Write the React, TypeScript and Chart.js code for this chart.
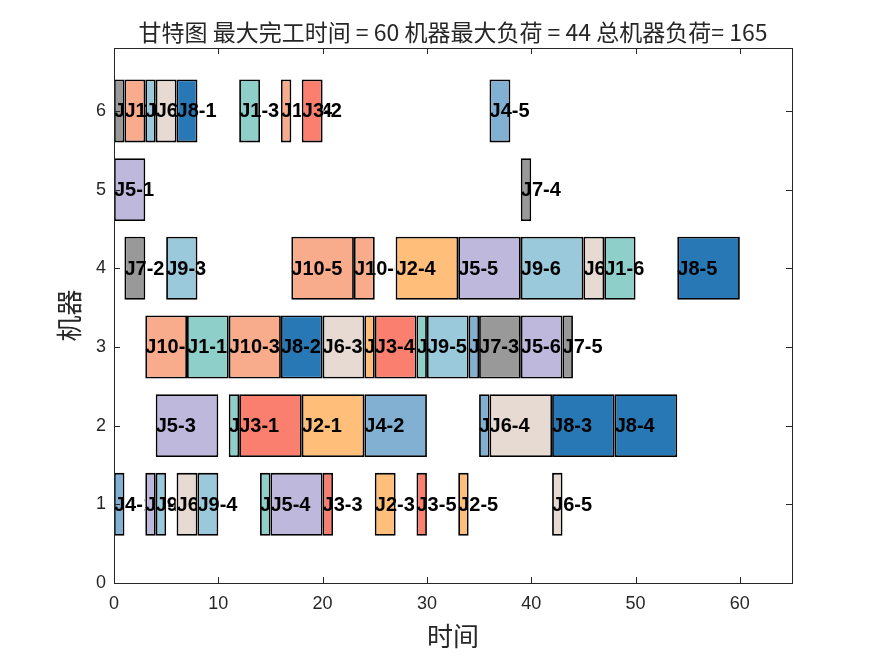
import React, { useEffect, useRef } from "react";
import { Chart, registerables } from "chart.js";

Chart.register(...registerables);

const titleText = "甘特图 最大完工时间 = 60 机器最大负荷 = 44 总机器负荷= 165";
const xTitle = "时间";
const yTitle = "机器";

const jobColors = [
  "#8ECFC9", "#FFBE7A", "#FA7F6F", "#82B0D2", "#BEB8DC",
  "#E7DAD2", "#999999", "#2878B5", "#9AC9DB", "#F8AC8C",
];

// job number, operation number, machine, start, end
const taskJob = [
  1, 1, 1, 1, 1, 1,
  2, 2, 2, 2, 2,
  3, 3, 3, 3, 3,
  4, 4, 4, 4, 4,
  5, 5, 5, 5, 5, 5,
  6, 6, 6, 6, 6, 6,
  7, 7, 7, 7, 7,
  8, 8, 8, 8, 8,
  9, 9, 9, 9, 9, 9,
  10, 10, 10, 10, 10, 10,
];
const taskOp = [
  1, 2, 3, 4, 5, 6,
  1, 2, 3, 4, 5,
  1, 2, 3, 4, 5,
  1, 2, 3, 4, 5,
  1, 2, 3, 4, 5, 6,
  1, 2, 3, 4, 5, 6,
  1, 2, 3, 4, 5,
  1, 2, 3, 4, 5,
  1, 2, 3, 4, 5, 6,
  1, 2, 3, 4, 5, 6,
];
const taskMachine = [
  3, 2, 6, 1, 3, 4,
  2, 3, 1, 4, 1,
  2, 6, 1, 3, 1,
  1, 2, 3, 2, 6,
  5, 1, 2, 1, 4, 3,
  6, 1, 3, 2, 1, 4,
  6, 4, 3, 5, 3,
  6, 3, 2, 2, 4,
  6, 1, 4, 1, 3, 4,
  6, 3, 3, 6, 4, 4,
];
const taskStart = [
  7, 11, 12, 14, 29, 47,
  18, 24, 25, 27, 33,
  12, 18, 20, 25, 29,
  0, 24, 34, 35, 36,
  0, 3, 4, 15, 33, 39,
  4, 6, 20, 36, 42, 45,
  0, 1, 35, 39, 43,
  6, 16, 42, 48, 54,
  3, 4, 5, 8, 30, 39,
  1, 3, 11, 16, 17, 23,
];
const taskEnd = [
  11, 12, 14, 15, 30, 50,
  24, 25, 27, 33, 34,
  18, 20, 21, 29, 30,
  1, 30, 35, 36, 38,
  3, 4, 10, 20, 39, 43,
  6, 8, 24, 42, 43, 47,
  1, 3, 39, 40, 44,
  8, 20, 48, 54, 60,
  4, 5, 8, 10, 34, 45,
  3, 7, 16, 17, 23, 25,
];

const xTicks = [0, 10, 20, 30, 40, 50, 60];
const yTicks = [0, 1, 2, 3, 4, 5, 6];
const xMin = 0;
const xMax = 65;
const yMin = 0;
const yMax = 6.8;

const AXIS_COLOR = "#262626";

const decorPlugin = {
  id: "ganttDecor",
  afterDatasetsDraw(chart: any) {
    const ctx = chart.ctx;
    const xs = chart.scales.x;
    const ys = chart.scales.y;
    const meta = chart.getDatasetMeta(0);
    ctx.save();
    ctx.fillStyle = "#000";
    ctx.font = "bold 20px 'Liberation Sans', Arial, sans-serif";
    ctx.textAlign = "left";
    ctx.textBaseline = "middle";
    for (let i = 0; i < taskJob.length; i++) {
      const px = xs.getPixelForValue(taskStart[i]);
      const py = ys.getPixelForValue(taskMachine[i]);
      // later bars on the same machine are painted over this label
      ctx.save();
      ctx.beginPath();
      ctx.rect(0, 0, chart.width, chart.height);
      for (let k = 0; k < taskJob.length; k++) {
        if (taskMachine[k] === taskMachine[i] && taskStart[k] > taskStart[i]) {
          const el = meta.data[k] as any;
          const x0 = Math.min(el.x, el.base);
          const x1 = Math.max(el.x, el.base);
          const h = el.height;
          ctx.rect(x0 - 0.9, el.y - h / 2 - 1, x1 - x0 + 1.8, h + 2);
        }
      }
      ctx.clip("evenodd");
      ctx.fillText("J" + taskJob[i] + "-" + taskOp[i], px, py + 1);
      ctx.restore();
    }
    ctx.restore();
  },
  afterDraw(chart: any) {
    const ctx = chart.ctx;
    const { left, right, top, bottom } = chart.chartArea;
    const xs = chart.scales.x;
    const ys = chart.scales.y;
    ctx.save();
    ctx.strokeStyle = AXIS_COLOR;
    ctx.lineWidth = 1;
    ctx.strokeRect(Math.round(left) + 0.5, Math.round(top) + 0.5, Math.round(right - left), Math.round(bottom - top));
    const tl = 6;
    ctx.beginPath();
    for (const v of xTicks) {
      const px = Math.round(xs.getPixelForValue(v)) + 0.5;
      ctx.moveTo(px, bottom);
      ctx.lineTo(px, bottom - tl);
      ctx.moveTo(px, top);
      ctx.lineTo(px, top + tl);
    }
    for (const v of yTicks) {
      const py = Math.round(ys.getPixelForValue(v)) + 0.5;
      ctx.moveTo(left, py);
      ctx.lineTo(left + tl, py);
      ctx.moveTo(right, py);
      ctx.lineTo(right - tl, py);
    }
    ctx.stroke();

    // title
    ctx.fillStyle = AXIS_COLOR;
    ctx.textAlign = "center";
    ctx.textBaseline = "middle";
    ctx.font = "23px 'Noto Sans CJK SC', sans-serif";
    ctx.fillText(titleText, (left + right) / 2, 32);

    // axis titles
    ctx.font = "26px 'Noto Sans CJK SC', sans-serif";
    ctx.fillText(xTitle, (left + right) / 2, 636);
    ctx.save();
    ctx.translate(69, (top + bottom) / 2);
    ctx.rotate(-Math.PI / 2);
    ctx.fillText(yTitle, 0, 0);
    ctx.restore();
    ctx.restore();
  },
};

export default function App() {
  const canvasRef = useRef<HTMLCanvasElement | null>(null);

  useEffect(() => {
    const canvas = canvasRef.current;
    if (!canvas) return;
    const data = taskJob.map((_, i) => ({ x: [taskStart[i], taskEnd[i]], y: taskMachine[i] }));
    const colors = taskJob.map((j) => jobColors[j - 1]);
    const chart = new Chart(canvas, {
      type: "bar",
      data: {
        datasets: [
          {
            data: data as any,
            backgroundColor: colors,
            borderColor: "#000000",
            borderWidth: 1.8,
            borderSkipped: false,
            barPercentage: 0.8,
            categoryPercentage: 1,
          },
        ],
      },
      options: {
        indexAxis: "y",
        responsive: false,
        animation: false,
        devicePixelRatio: 1,
        layout: { padding: { top: 48, right: 83, left: 0, bottom: 0 } },
        plugins: {
          legend: { display: false },
          tooltip: { enabled: false },
          title: { display: false },
        },
        scales: {
          x: {
            type: "linear",
            min: xMin,
            max: xMax,
            offset: false,
            grid: { display: false, drawTicks: false },
            border: { display: false },
            afterBuildTicks: (s: any) => {
              s.ticks = xTicks.map((v) => ({ value: v }));
            },
            afterFit: (s: any) => {
              s.height = 73;
            },
            ticks: {
              padding: 10,
              color: AXIS_COLOR,
              font: { family: "'Liberation Sans', Arial, sans-serif", size: 18 },
            },
          },
          y: {
            type: "linear",
            min: yMin,
            max: yMax,
            offset: false,
            grid: { display: false, drawTicks: false },
            border: { display: false },
            afterBuildTicks: (s: any) => {
              s.ticks = yTicks.map((v) => ({ value: v }));
            },
            afterFit: (s: any) => {
              s.width = 114;
            },
            ticks: {
              padding: 8,
              color: AXIS_COLOR,
              font: { family: "'Liberation Sans', Arial, sans-serif", size: 18 },
            },
          },
        },
      },
      plugins: [decorPlugin],
    });
    return () => chart.destroy();
  }, []);

  return (
    <div style={{ position: "fixed", left: 0, top: 0, width: 875, height: 656, background: "#fff" }}>
      <canvas ref={canvasRef} width={875} height={656} />
    </div>
  );
}
